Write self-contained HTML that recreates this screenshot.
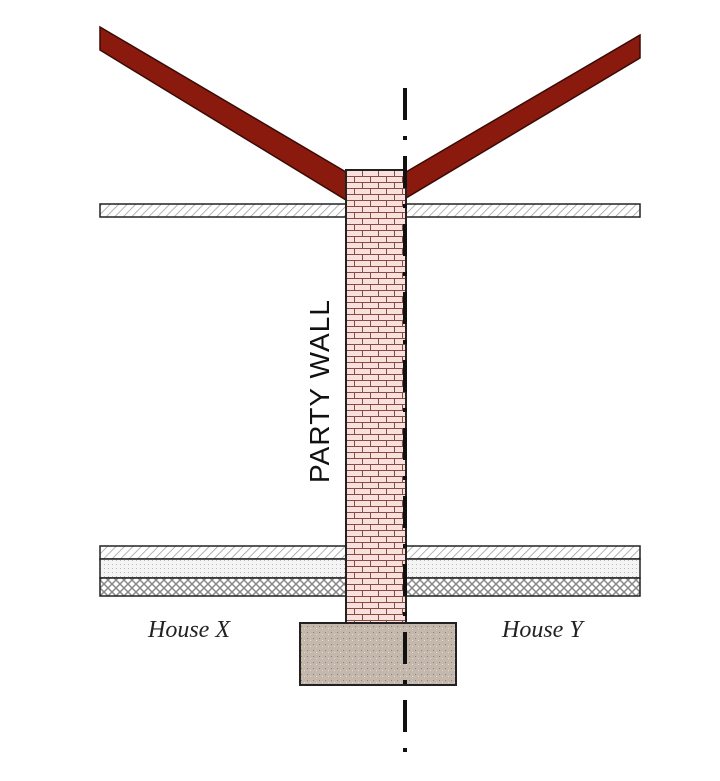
<!DOCTYPE html>
<html><head><style>body{margin:0;background:#fff}</style></head><body>
<svg width="720" height="776" xmlns="http://www.w3.org/2000/svg">
<defs>
<pattern id="brick" width="16" height="12" patternUnits="userSpaceOnUse" x="346" y="170">
<rect width="16" height="12" fill="#f8e0dc"/>
<path d="M0 0.5H16M0 6.5H16M0.5 0V6M8.5 6V12" stroke="#8a4a44" stroke-width="1"/>
</pattern>
<pattern id="hatch" width="6" height="6" patternUnits="userSpaceOnUse" patternTransform="rotate(45)">
<rect width="6" height="6" fill="#fff"/><path d="M0 0V6" stroke="#999" stroke-width="1.5"/>
</pattern>
<pattern id="dots" width="4" height="4" patternUnits="userSpaceOnUse">
<rect width="4" height="4" fill="#f4f4f4"/><rect width="1" height="1" fill="#bbb"/>
</pattern>
<pattern id="cross" width="8" height="8" patternUnits="userSpaceOnUse">
<rect width="8" height="8" fill="#fff"/><path d="M0 0L8 8M8 0L0 8" stroke="#888" stroke-width="1.5"/>
</pattern>
<pattern id="conc" width="6" height="6" patternUnits="userSpaceOnUse">
<rect width="6" height="6" fill="#c4b8ad"/><rect x="1" y="2" width="1" height="1" fill="#8c8078"/><rect x="4" y="4" width="1" height="1" fill="#e6ddd4"/>
</pattern>
</defs>
<polygon points="100,27 346,172 346,200 100,50" fill="#8b1a0e" stroke="#3a0a05" stroke-width="1.5"/>
<polygon points="640,35 406,172 406,198 640,58" fill="#8b1a0e" stroke="#3a0a05" stroke-width="1.5"/>
<rect x="100" y="204" width="540" height="13" fill="url(#hatch)" stroke="#222" stroke-width="1.5"/>
<rect x="100" y="546" width="540" height="13" fill="url(#hatch)" stroke="#222" stroke-width="1.5"/>
<rect x="100" y="559" width="540" height="19" fill="url(#dots)" stroke="#222" stroke-width="1.5"/>
<rect x="100" y="578" width="540" height="18" fill="url(#cross)" stroke="#222" stroke-width="1.5"/>
<rect x="346" y="170" width="60" height="453" fill="url(#brick)" stroke="#222" stroke-width="2"/>
<rect x="300" y="623" width="156" height="62" fill="url(#conc)" stroke="#222" stroke-width="2"/>
<line x1="405" y1="88" x2="405" y2="762" stroke="#111" stroke-width="4" stroke-dasharray="32 16 4 16"/>
<text transform="translate(329,483) rotate(-90)" font-family="Liberation Sans, sans-serif" font-size="28" textLength="183" fill="#111">PARTY WALL</text>
<text x="148" y="637" font-family="Liberation Serif, serif" font-style="italic" font-size="24" fill="#222">House X</text>
<text x="502" y="637" font-family="Liberation Serif, serif" font-style="italic" font-size="24" fill="#222">House Y</text>
</svg>
</body></html>
